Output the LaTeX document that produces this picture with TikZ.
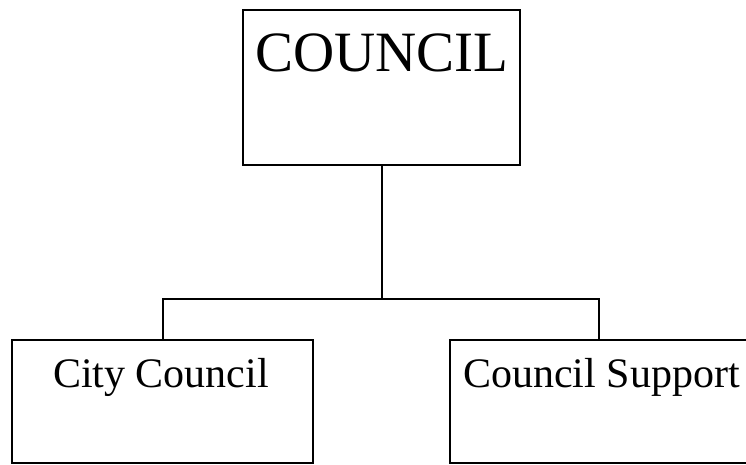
\documentclass[tikz,border=0pt]{standalone}
\usepackage{fontspec}
\setmainfont{Liberation Serif}
\tikzset{
  orgbox/.style={draw, line width=2pt, minimum width=#1, inner sep=0pt},
  orgline/.style={line width=2pt, line join=miter},
  bigtext/.style={anchor=base, inner sep=0pt, font=\fontsize{57}{60}\selectfont},
  smalltext/.style={anchor=base, inner sep=0pt, font=\fontsize{42}{46}\selectfont},
}
\begin{document}
\begin{tikzpicture}[x=1pt, y=1pt]
  \useasboundingbox (0,0) rectangle (746,464);
  % boxes
  \node[orgbox=277pt, minimum height=155pt] (council) at (381.5,376.5) {};
  \node[orgbox=301pt, minimum height=123pt] (city) at (162.5,62.5) {};
  \node[orgbox=298pt, minimum height=123pt] (support) at (599,62.5) {};
  % labels
  \node[bigtext] (councillabel) at (382,392) {COUNCIL};
  \node[smalltext] (citylabel) at (161,77) {City Council};
  \node[smalltext] (supportlabel) at (601.5,77) {Council Support};
  % connectors
  \coordinate (junction) at (381.5,165);
  \draw[orgline] (council.south) -- (junction);
  \draw[orgline] (city.north) |- (junction) -| (support.north);
\end{tikzpicture}
\end{document}
